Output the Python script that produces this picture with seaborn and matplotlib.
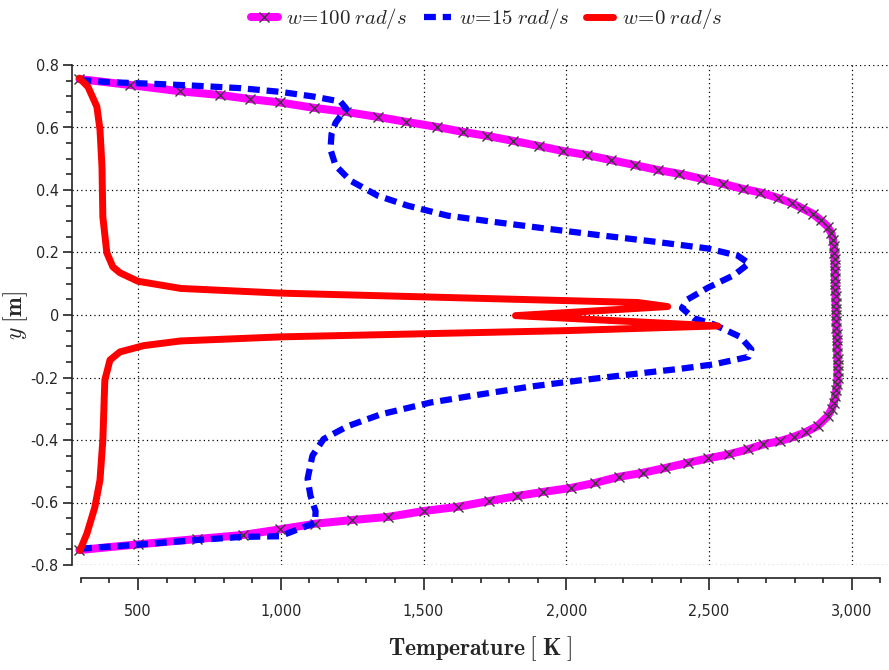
import numpy as np
import pandas as pd
import seaborn as sns
import matplotlib.pyplot as plt
from matplotlib.ticker import MultipleLocator, FuncFormatter

labels = ["w=100 rad/s", "w=15 rad/s", "w=0 rad/s"]

# w = 100 rad/s (magenta, x markers)
t_w100 = [295, 472, 647, 787, 892, 999, 1115, 1227, 1339, 1440, 1546, 1637, 1724, 1815,
          1903, 1987, 2071, 2155, 2239, 2320, 2395, 2474, 2547, 2617, 2680, 2740, 2792,
          2827, 2863, 2891, 2915, 2928,
          2934, 2937, 2939, 2940, 2940, 2941, 2941, 2942, 2942, 2943, 2943, 2944, 2944,
          2945, 2946, 2947, 2948, 2948, 2949, 2950, 2950, 2950, 2950, 2949, 2946, 2942,
          2937, 2930, 2915, 2880, 2838, 2796, 2750, 2690, 2635, 2568, 2495, 2425, 2344,
          2267, 2183, 2102, 2018, 1920, 1829, 1731, 1619, 1503, 1377, 1251, 1120, 997,
          867, 706, 500, 295]
y_w100 = [0.755, 0.736, 0.716, 0.704, 0.691, 0.68, 0.663, 0.65, 0.634, 0.618, 0.602, 0.586,
          0.573, 0.557, 0.541, 0.525, 0.512, 0.496, 0.48, 0.464, 0.452, 0.436, 0.42, 0.404,
          0.392, 0.375, 0.357, 0.341, 0.324, 0.303, 0.283, 0.262,
          0.24, 0.22, 0.20, 0.18, 0.16, 0.14, 0.12, 0.10, 0.08, 0.06, 0.04, 0.02, 0.0,
          -0.02, -0.04, -0.06, -0.08, -0.10, -0.12, -0.14, -0.16, -0.18, -0.20, -0.22,
          -0.24, -0.26, -0.28, -0.30, -0.324, -0.355, -0.375, -0.39, -0.403, -0.414, -0.43,
          -0.446, -0.459, -0.473, -0.49, -0.505, -0.518, -0.537, -0.553, -0.566, -0.579,
          -0.595, -0.614, -0.627, -0.646, -0.656, -0.668, -0.686, -0.704, -0.717, -0.734,
          -0.752]

# w = 15 rad/s (blue, dashed)
t_w15 = [295, 402, 577, 717, 857, 999, 1115, 1209, 1230, 1208, 1192, 1178, 1174, 1192, 1244,
         1339, 1444, 1584, 1745, 1934, 2120, 2306, 2495, 2600, 2640, 2586, 2495, 2425, 2405,
         2446, 2516, 2609, 2648, 2638, 2516, 2400, 2225, 2050, 1875, 1700, 1525, 1350, 1234,
         1150, 1111, 1094, 1104, 1122, 1120, 997, 867, 706, 500, 295]
y_w15 = [0.752, 0.745, 0.739, 0.733, 0.726, 0.714, 0.699, 0.683, 0.66, 0.635, 0.615, 0.58,
         0.53, 0.478, 0.43, 0.382, 0.35, 0.318, 0.298, 0.276, 0.255, 0.235, 0.213, 0.19,
         0.165, 0.127, 0.087, 0.05, 0.022, -0.01, -0.03, -0.07, -0.11, -0.134, -0.158,
         -0.172, -0.19, -0.209, -0.229, -0.254, -0.28, -0.318, -0.356, -0.397, -0.45,
         -0.524, -0.578, -0.628, -0.665, -0.708, -0.71, -0.72, -0.735, -0.748]

# w = 0 rad/s (red, solid)
t_w0 = [295, 325, 356, 367, 374, 377, 391, 412, 437, 500, 650, 1000, 1500, 2000, 2250, 2355,
        1822, 2530, 2000, 1500, 1000, 650, 520, 437, 402, 384, 377, 367, 349, 321, 297]
y_w0 = [0.758, 0.73, 0.667, 0.593, 0.474, 0.314, 0.199, 0.154, 0.135, 0.108, 0.085, 0.07,
        0.058, 0.046, 0.04, 0.027, -0.002, -0.035, -0.05, -0.06, -0.07, -0.083, -0.098,
        -0.118, -0.144, -0.208, -0.40, -0.528, -0.615, -0.70, -0.753]

sns.set_style("ticks")
plt.rcParams["font.family"] = ["DejaVu Sans"]
plt.rcParams["font.stretch"] = "condensed"
plt.rcParams["mathtext.fontset"] = "cm"

fig = plt.figure(figsize=(8.89, 6.70), dpi=100)
ax = fig.add_axes([72 / 889, 1 - 565 / 670, 1 - 72 / 889, 500 / 670])

sns.lineplot(x=t_w100, y=y_w100, sort=False, estimator=None, ax=ax, color="#ff00ff",
             linewidth=5.8, marker="x", markersize=7.5, markeredgecolor="#3a3a3a",
             markeredgewidth=1.0, label=labels[0], zorder=2)
sns.lineplot(x=t_w15, y=y_w15, sort=False, estimator=None, ax=ax, color="#0000ff",
             linewidth=4.5, linestyle=(0, (1.9, 1.1)), label=labels[1], zorder=3)
sns.lineplot(x=t_w0, y=y_w0, sort=False, estimator=None, ax=ax, color="#ff0000",
             linewidth=5.0, label=labels[2], zorder=4)

ax.set_xlim(269, 3130)
ax.set_ylim(-0.8, 0.8)

ax.xaxis.set_major_locator(MultipleLocator(500))
ax.xaxis.set_minor_locator(MultipleLocator(100))
ax.yaxis.set_major_locator(MultipleLocator(0.2))
ax.yaxis.set_minor_locator(MultipleLocator(0.05))
ax.xaxis.set_major_formatter(FuncFormatter(lambda v, p: f"{v:,.0f}"))
ax.yaxis.set_major_formatter(FuncFormatter(lambda v, p: "0" if abs(v) < 1e-9 else f"{v:.1f}"))

ax.grid(True, which="major", color="black", linestyle=(0, (1, 2.5)), linewidth=0.9)
ax.tick_params(axis="both", which="major", direction="out", labelsize=11.5, color="#222222")
ax.tick_params(axis="x", which="major", length=8.5, width=1.2, pad=10)
ax.tick_params(axis="x", which="minor", length=3.5, width=1.2)
ax.tick_params(axis="y", which="major", length=6.5, width=1.2, pad=3)
ax.tick_params(axis="y", which="minor", length=4, width=1.2)
for lab in ax.get_xticklabels() + ax.get_yticklabels():
    lab.set_fontstretch("condensed")

for s in ["top", "right"]:
    ax.spines[s].set_visible(False)
ax.spines["bottom"].set_position(("outward", 9.5))
ax.spines["bottom"].set_bounds(300, 3100)
ax.spines["left"].set_bounds(-0.8, 0.8)
for s in ["bottom", "left"]:
    ax.spines[s].set_linewidth(1.2)
    ax.spines[s].set_color("#222222")

ax.set_xlabel(r"$\mathbf{Temperature}\;[\;\mathbf{K}\;]$", fontsize=17, labelpad=11)
ax.set_ylabel(r"$y\;\mathbf{[m]}$", fontsize=17)
ax.yaxis.set_label_coords(-0.052, 0.5)

handles, _ = ax.get_legend_handles_labels()
ax.get_legend().remove()
leg_text = [r"$\mathit{w}\!=\!\mathit{100\;rad/s}$",
            r"$\mathit{w}\!=\!\mathit{15\;rad/s}$",
            r"$\mathit{w}\!=\!\mathit{0\;rad/s}$"]
fig.legend(handles, leg_text, loc="center", bbox_to_anchor=(0.547, 0.972), ncol=3,
           frameon=False, handlelength=1.3, handletextpad=0.4, columnspacing=0.8,
           prop={"size": 15})

fig.savefig("out.png", dpi=100)
